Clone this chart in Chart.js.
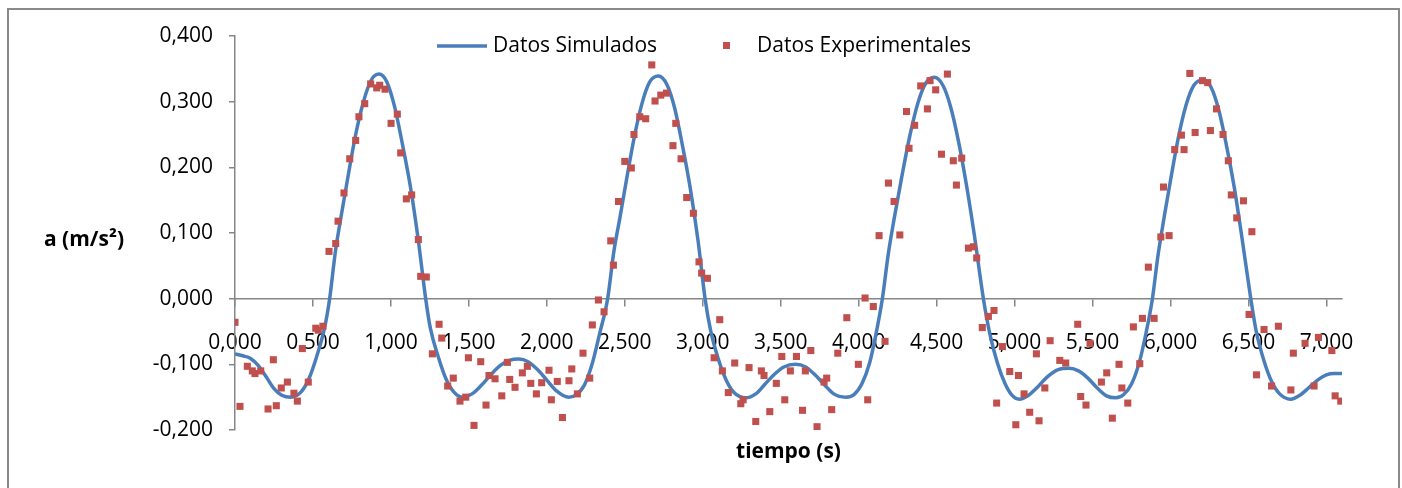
<!DOCTYPE html>
<html>
<head>
<meta charset="utf-8">
<title>Aceleración</title>
<script src="https://cdn.jsdelivr.net/npm/chart.js@4.4.1/dist/chart.umd.min.js"></script>
<style>
    html, body { margin: 0; padding: 0; background: #fff; }
    body { width: 1402px; height: 488px; position: relative; overflow: hidden; }
    .frame { position: absolute; left: 7px; top: 8px; width: 1393px; height: 500px; border: 2px solid #8a8a8a; box-sizing: border-box; }
    #chart { position: absolute; left: 0; top: 0; }
</style>
</head>
<body>
<div class="frame"></div>
<canvas id="chart" width="1402" height="488"></canvas>
<script>
// simulated curve, t (s) / a (m/s2)
const simTime = [
    0.00, 0.05, 0.10, 0.15, 0.20, 0.25, 0.30, 0.357, 0.424, 0.474,
    0.524, 0.574, 0.607, 0.644, 0.684, 0.724, 0.774, 0.824, 0.874, 0.924,
    0.974, 1.024, 1.074, 1.124, 1.174, 1.223, 1.253, 1.303, 1.353, 1.403,
    1.458, 1.52, 1.58, 1.64, 1.70, 1.76, 1.82, 1.88, 1.94, 2.00,
    2.06, 2.14, 2.19, 2.24, 2.29, 2.34, 2.39, 2.43, 2.47, 2.51,
    2.56, 2.61, 2.66, 2.716, 2.77, 2.82, 2.87, 2.92, 2.97, 3.015,
    3.05, 3.10, 3.15, 3.20, 3.276, 3.34, 3.40, 3.46, 3.52, 3.596,
    3.66, 3.72, 3.78, 3.84, 3.917, 3.97, 4.02, 4.07, 4.11, 4.152,
    4.19, 4.23, 4.28, 4.33, 4.38, 4.43, 4.484, 4.54, 4.59, 4.64,
    4.69, 4.74, 4.80, 4.84, 4.89, 4.94, 4.98, 5.03, 5.09, 5.15,
    5.21, 5.28, 5.35, 5.41, 5.47, 5.53, 5.59, 5.649, 5.70, 5.75,
    5.80, 5.845, 5.884, 5.92, 5.96, 6.00, 6.05, 6.10, 6.15, 6.209,
    6.26, 6.31, 6.36, 6.41, 6.46, 6.515, 6.55, 6.60, 6.65, 6.70,
    6.77, 6.83, 6.89, 6.95, 7.00, 7.05, 7.10
];
const simAccel = [
    -0.084, -0.087, -0.091, -0.102, -0.119, -0.137, -0.147, -0.150, -0.142, -0.122,
    -0.088, -0.045, 0.000, 0.072, 0.130, 0.185, 0.250, 0.300, 0.333, 0.342,
    0.330, 0.292, 0.235, 0.172, 0.092, 0.000, -0.045, -0.088, -0.122, -0.142,
    -0.150, -0.145, -0.132, -0.116, -0.102, -0.094, -0.092, -0.096, -0.108, -0.124,
    -0.140, -0.150, -0.146, -0.132, -0.100, -0.052, 0.000, 0.072, 0.125, 0.180,
    0.245, 0.297, 0.330, 0.339, 0.326, 0.290, 0.233, 0.168, 0.088, 0.000,
    -0.048, -0.092, -0.124, -0.143, -0.151, -0.145, -0.130, -0.115, -0.104, -0.100,
    -0.104, -0.116, -0.131, -0.145, -0.150, -0.146, -0.130, -0.098, -0.055, 0.000,
    0.068, 0.125, 0.190, 0.250, 0.298, 0.328, 0.337, 0.325, 0.292, 0.240,
    0.175, 0.100, 0.000, -0.052, -0.098, -0.130, -0.146, -0.153, -0.147, -0.134,
    -0.119, -0.108, -0.106, -0.110, -0.121, -0.136, -0.148, -0.151, -0.146, -0.130,
    -0.097, -0.050, 0.000, 0.066, 0.125, 0.180, 0.245, 0.295, 0.325, 0.333,
    0.322, 0.287, 0.232, 0.168, 0.090, 0.000, -0.050, -0.095, -0.127, -0.145,
    -0.153, -0.147, -0.135, -0.123, -0.116, -0.114, -0.114
];

// measured points
const expTime = [
    0.000, 0.032, 0.079, 0.111, 0.128, 0.165, 0.212, 0.246, 0.265, 0.297,
    0.336, 0.378, 0.400, 0.432, 0.470, 0.518, 0.534, 0.564, 0.603, 0.646,
    0.661, 0.699, 0.736, 0.774, 0.795, 0.832, 0.870, 0.909, 0.928, 0.962,
    1.001, 1.041, 1.063, 1.099, 1.133, 1.176, 1.191, 1.227, 1.266, 1.309,
    1.326, 1.364, 1.400, 1.443, 1.480, 1.497, 1.533, 1.576, 1.610, 1.629,
    1.668, 1.711, 1.747, 1.762, 1.796, 1.843, 1.875, 1.897, 1.933, 1.967,
    2.014, 2.029, 2.067, 2.100, 2.142, 2.160, 2.196, 2.232, 2.275, 2.292,
    2.331, 2.367, 2.410, 2.427, 2.460, 2.500, 2.542, 2.559, 2.596, 2.634,
    2.673, 2.694, 2.731, 2.767, 2.809, 2.827, 2.861, 2.897, 2.940, 2.976,
    2.993, 3.030, 3.073, 3.109, 3.126, 3.164, 3.205, 3.244, 3.259, 3.297,
    3.340, 3.376, 3.393, 3.430, 3.472, 3.507, 3.526, 3.562, 3.601, 3.640,
    3.658, 3.693, 3.733, 3.778, 3.795, 3.827, 3.866, 3.924, 3.998, 4.041,
    4.058, 4.094, 4.131, 4.169, 4.191, 4.227, 4.264, 4.307, 4.323, 4.359,
    4.398, 4.441, 4.458, 4.494, 4.531, 4.569, 4.607, 4.627, 4.661, 4.704,
    4.736, 4.757, 4.793, 4.832, 4.868, 4.885, 4.922, 4.969, 5.008, 5.025,
    5.061, 5.097, 5.140, 5.157, 5.194, 5.228, 5.290, 5.328, 5.405, 5.424,
    5.458, 5.484, 5.557, 5.591, 5.627, 5.670, 5.688, 5.726, 5.762, 5.803,
    5.820, 5.858, 5.895, 5.938, 5.955, 5.991, 6.027, 6.070, 6.087, 6.124,
    6.158, 6.205, 6.239, 6.256, 6.295, 6.337, 6.371, 6.390, 6.425, 6.468,
    6.504, 6.522, 6.552, 6.600, 6.648, 6.692, 6.772, 6.788, 6.863, 6.921,
    6.949, 7.035, 7.056, 7.092
];
const expAccel = [
    -0.036, -0.164, -0.103, -0.110, -0.114, -0.110, -0.168, -0.093, -0.163, -0.136,
    -0.127, -0.144, -0.156, -0.076, -0.127, -0.045, -0.048, -0.042, 0.072, 0.084,
    0.118, 0.161, 0.213, 0.241, 0.277, 0.297, 0.327, 0.321, 0.325, 0.319,
    0.267, 0.281, 0.222, 0.152, 0.158, 0.090, 0.034, 0.033, -0.084, -0.039,
    -0.060, -0.133, -0.121, -0.156, -0.150, -0.090, -0.193, -0.096, -0.162, -0.117,
    -0.122, -0.148, -0.097, -0.123, -0.135, -0.113, -0.103, -0.129, -0.145, -0.128,
    -0.109, -0.154, -0.126, -0.181, -0.125, -0.107, -0.145, -0.083, -0.121, -0.040,
    -0.002, -0.020, 0.088, 0.051, 0.148, 0.209, 0.199, 0.250, 0.277, 0.274,
    0.356, 0.301, 0.310, 0.313, 0.233, 0.267, 0.213, 0.154, 0.130, 0.056,
    0.039, 0.031, -0.090, -0.032, -0.110, -0.143, -0.098, -0.160, -0.154, -0.105,
    -0.187, -0.110, -0.117, -0.172, -0.129, -0.088, -0.154, -0.110, -0.088, -0.170,
    -0.110, -0.079, -0.195, -0.127, -0.121, -0.169, -0.083, -0.029, -0.100, 0.001,
    -0.154, -0.012, 0.096, -0.065, 0.176, 0.148, 0.097, 0.285, 0.229, 0.264,
    0.324, 0.289, 0.332, 0.318, 0.220, 0.342, 0.210, 0.173, 0.214, 0.077,
    0.079, 0.062, -0.044, -0.027, -0.018, -0.159, -0.073, -0.111, -0.192, -0.117,
    -0.145, -0.173, -0.084, -0.186, -0.136, -0.064, -0.094, -0.098, -0.039, -0.149,
    -0.162, -0.068, -0.127, -0.113, -0.182, -0.100, -0.136, -0.159, -0.043, -0.099,
    -0.030, 0.048, -0.030, 0.094, 0.170, 0.096, 0.227, 0.249, 0.227, 0.343,
    0.253, 0.332, 0.329, 0.256, 0.289, 0.250, 0.210, 0.158, 0.123, 0.149,
    -0.024, 0.102, -0.116, -0.047, -0.133, -0.042, -0.139, -0.083, -0.068, -0.133,
    -0.059, -0.079, -0.148, -0.156
];

const xTickValues = [0, 0.5, 1, 1.5, 2, 2.5, 3, 3.5, 4, 4.5, 5, 5.5, 6, 6.5, 7];
const yTickValues = [-0.2, -0.1, 0, 0.1, 0.2, 0.3, 0.4];
const seriesNames = ['Datos Simulados', 'Datos Experimentales'];
const xTitle = 'tiempo (s)';
const yTitle = 'a (m/s²)';

const BLUE = '#4a7ebb';
const RED = '#c0504d';
const AXIS_GREY = '#868686';
const FONT = '"Open Sans", "Noto Sans", sans-serif';

const toPoints = (xs, ys) => xs.map((x, i) => ({ x: x, y: ys[i] }));
const comma = v => v.toFixed(3).replace('.', ',');

// legend and axis titles sit over the plot, so they are painted here
const chartText = {
    id: 'chartText',
    afterDraw(chart) {
        const { ctx, chartArea } = chart;
        ctx.save();
        ctx.fillStyle = '#000';
        ctx.textBaseline = 'middle';

        ctx.font = 'bold 21px ' + FONT;
        ctx.textAlign = 'center';
        ctx.fillText(xTitle, (chartArea.left + chartArea.right) / 2, 452);
        ctx.fillText(yTitle, 84, 240);

        ctx.font = '21px ' + FONT;
        ctx.textAlign = 'left';
        ctx.strokeStyle = BLUE;
        ctx.lineWidth = 3.5;
        ctx.beginPath();
        ctx.moveTo(437, 46);
        ctx.lineTo(487, 46);
        ctx.stroke();
        ctx.fillText(seriesNames[0], 493, 46);

        ctx.fillStyle = RED;
        ctx.fillRect(723, 42, 7, 7);
        ctx.fillStyle = '#000';
        ctx.fillText(seriesNames[1], 757, 46);
        ctx.restore();
    }
};

const axisGrid = { drawOnChartArea: false, drawTicks: true, color: AXIS_GREY, lineWidth: 1.5 };

new Chart(document.getElementById('chart'), {
    type: 'scatter',
    data: {
        datasets: [
            {
                label: seriesNames[1],
                data: toPoints(expTime, expAccel),
                pointStyle: 'rect',
                pointRadius: 5,
                pointBackgroundColor: RED,
                pointBorderWidth: 0,
                order: 0
            },
            {
                label: seriesNames[0],
                data: toPoints(simTime, simAccel),
                showLine: true,
                borderColor: BLUE,
                borderWidth: 3.5,
                pointRadius: 0,
                cubicInterpolationMode: 'monotone',
                order: 1
            }
        ]
    },
    options: {
        responsive: false,
        animation: false,
        devicePixelRatio: 1,
        layout: { padding: { left: 0, right: 60, top: 36, bottom: 58 } },
        plugins: { legend: { display: false }, tooltip: { enabled: false } },
        scales: {
            x: {
                type: 'linear',
                position: { y: 0 },
                min: 0,
                max: 7.1,
                afterBuildTicks: scale => { scale.ticks = xTickValues.map(v => ({ value: v })); },
                grid: { ...axisGrid, tickLength: 7 },
                border: { color: AXIS_GREY, width: 1.5 },
                ticks: {
                    color: '#000',
                    font: { family: FONT, size: 21 },
                    padding: 25,
                    maxRotation: 0,
                    autoSkip: false,
                    callback: v => comma(v)
                }
            },
            y: {
                type: 'linear',
                min: -0.2,
                max: 0.4,
                afterBuildTicks: scale => { scale.ticks = yTickValues.map(v => ({ value: v })); },
                afterFit: scale => { scale.width = 235; },
                grid: { ...axisGrid, tickLength: 6 },
                border: { color: AXIS_GREY, width: 1.5 },
                ticks: {
                    color: '#000',
                    font: { family: FONT, size: 21 },
                    padding: 16,
                    callback: v => comma(v)
                }
            }
        }
    },
    plugins: [chartText]
});
</script>
</body>
</html>
